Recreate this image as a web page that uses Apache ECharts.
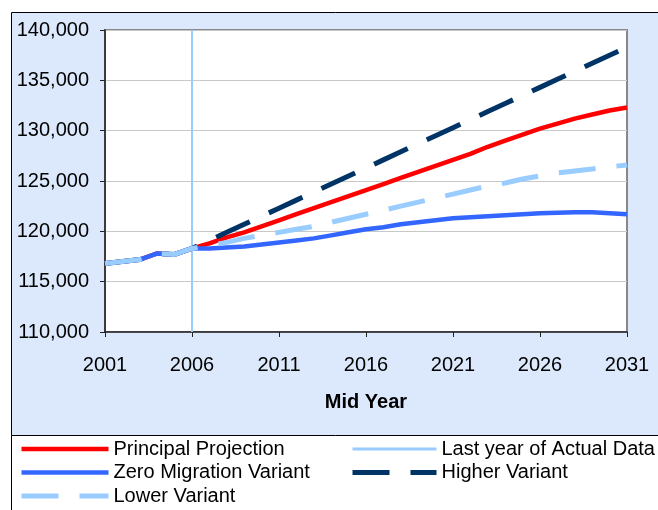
<!DOCTYPE html>
<html>
<head>
<meta charset="utf-8">
<script src="https://cdn.jsdelivr.net/npm/echarts@6/dist/echarts.min.js"></script>
<style>
  html, body { margin: 0; padding: 0; background: #fff; }
  #chart { width: 658px; height: 510px; }
</style>
</head>
<body>
<div id="chart"></div>
<script>
const years = [2001, 2002, 2003, 2004, 2005, 2006, 2007, 2008, 2009, 2010, 2011, 2012, 2013, 2014, 2015, 2016,
  2017, 2018, 2019, 2020, 2021, 2022, 2023, 2024, 2025, 2026, 2027, 2028, 2029, 2030, 2031];

// actual data 2001-2006 is shared by every series
const principal = [116800, 117000, 117200, 117800, 117700, 118300, 118800, 119400, 119900, 120500, 121100,
  121700, 122300, 122900, 123500, 124100, 124700, 125300, 125900, 126500, 127100, 127700, 128400, 129000,
  129600, 130200, 130700, 131200, 131600, 132000, 132300];
const zeroMigration = [116800, 117000, 117200, 117800, 117700, 118300, 118300, 118400, 118500, 118700, 118900,
  119100, 119300, 119600, 119900, 120200, 120400, 120700, 120900, 121100, 121300, 121400, 121500, 121600,
  121700, 121800, 121850, 121900, 121900, 121800, 121700];
const lowerVariant = [116800, 117000, 117200, 117800, 117700, 118300, 118600, 118900, 119300, 119600, 119900,
  120200, 120500, 120900, 121300, 121700, 122100, 122500, 122900, 123300, 123700, 124100, 124500, 124800,
  125200, 125500, 125800, 126000, 126200, 126400, 126600];
const higherVariant = [116800, 117000, 117200, 117800, 117700, 118300, 119100, 119900, 120700, 121500, 122300,
  123100, 123900, 124700, 125500, 126300, 127100, 127900, 128700, 129500, 130300, 131100, 131900, 132700,
  133500, 134300, 135100, 135900, 136700, 137500, 138300];
const lastActualYear = 2006;
const yTicks = [110000, 115000, 120000, 125000, 130000, 135000, 140000];

const pairs = (vals) => years.map((y, i) => [y, vals[i]]);

const chart = echarts.init(document.getElementById("chart"));
const font = "Liberation Sans, Arial, sans-serif";

const legendBase = {
  orient: "vertical",
  top: 439,
  padding: 0,
  itemHeight: 14,
  itemGap: 3.5,
  itemStyle: { opacity: 0 },
  lineStyle: { width: "inherit" },
  textStyle: { fontSize: 20, lineHeight: 20, color: "#000", fontFamily: font }
};

const option = {
  animation: false,
  textStyle: { fontFamily: font },
  graphic: [
    {
      type: "rect",
      z: -10,
      shape: { x: 11.5, y: 12.5, width: 700, height: 560 },
      style: { fill: "#dce9fc", stroke: "#000", lineWidth: 1 }
    },
    {
      type: "rect",
      z: -9,
      shape: { x: 11.5, y: 435.5, width: 700, height: 120 },
      style: { fill: "#fff", stroke: "#000", lineWidth: 1 }
    }
  ],
  grid: {
    left: 105,
    right: 31,
    top: 30,
    bottom: 178,
    show: true,
    backgroundColor: "#fff",
    borderColor: "#888",
    borderWidth: 2
  },
  legend: [
    {
      ...legendBase,
      left: 19,
      itemWidth: 87,
      data: ["Principal Projection", "Zero Migration Variant", "Lower Variant"]
    },
    {
      ...legendBase,
      left: 350,
      itemWidth: 84,
      data: [
        { name: "Last year of Actual Data", lineStyle: { width: 3 } },
        "Higher Variant"
      ]
    }
  ],
  xAxis: {
    type: "value",
    min: 2001,
    max: 2031,
    interval: 5,
    name: "Mid Year",
    nameLocation: "middle",
    nameGap: 60,
    nameTextStyle: { fontSize: 20, fontWeight: "bold", color: "#000", fontFamily: font },
    axisLine: { lineStyle: { color: "#222", width: 1.5 } },
    axisTick: { length: 5, lineStyle: { color: "#222" } },
    axisLabel: { fontSize: 20, color: "#000", margin: 23, formatter: (v) => String(v) },
    splitLine: { show: false }
  },
  yAxis: {
    type: "value",
    min: yTicks[0],
    max: yTicks[yTicks.length - 1],
    interval: 5000,
    axisLine: { show: true, lineStyle: { color: "#222", width: 1.5 } },
    axisTick: { show: true, length: 5, lineStyle: { color: "#222" } },
    axisLabel: {
      fontSize: 20,
      color: "#000",
      margin: 16,
      formatter: (v) => v.toLocaleString("en-US")
    },
    splitLine: { lineStyle: { color: "#c8c8c8", width: 1 } }
  },
  series: [
    {
      name: "Principal Projection",
      type: "line",
      symbol: "none",
      z: 2,
      color: "#ff0000",
      lineStyle: { color: "#ff0000", width: 4.5 },
      data: pairs(principal)
    },
    {
      name: "Higher Variant",
      type: "line",
      symbol: "none",
      z: 3,
      color: "#003366",
      lineStyle: { color: "#003366", width: 5, type: [37, 21], cap: "butt" },
      data: pairs(higherVariant)
    },
    {
      name: "Zero Migration Variant",
      type: "line",
      symbol: "none",
      z: 4,
      color: "#3366ff",
      lineStyle: { color: "#3366ff", width: 4.5 },
      data: pairs(zeroMigration)
    },
    {
      name: "Lower Variant",
      type: "line",
      symbol: "none",
      z: 5,
      color: "#99ccff",
      lineStyle: { color: "#99ccff", width: 5, type: [37, 21], cap: "butt" },
      data: pairs(lowerVariant)
    },
    {
      name: "Last year of Actual Data",
      type: "line",
      symbol: "none",
      z: 1,
      color: "#99ccff",
      lineStyle: { color: "#99ccff", width: 2 },
      data: [[lastActualYear, yTicks[0]], [lastActualYear, yTicks[yTicks.length - 1]]]
    }
  ]
};

chart.setOption(option);
</script>
</body>
</html>
